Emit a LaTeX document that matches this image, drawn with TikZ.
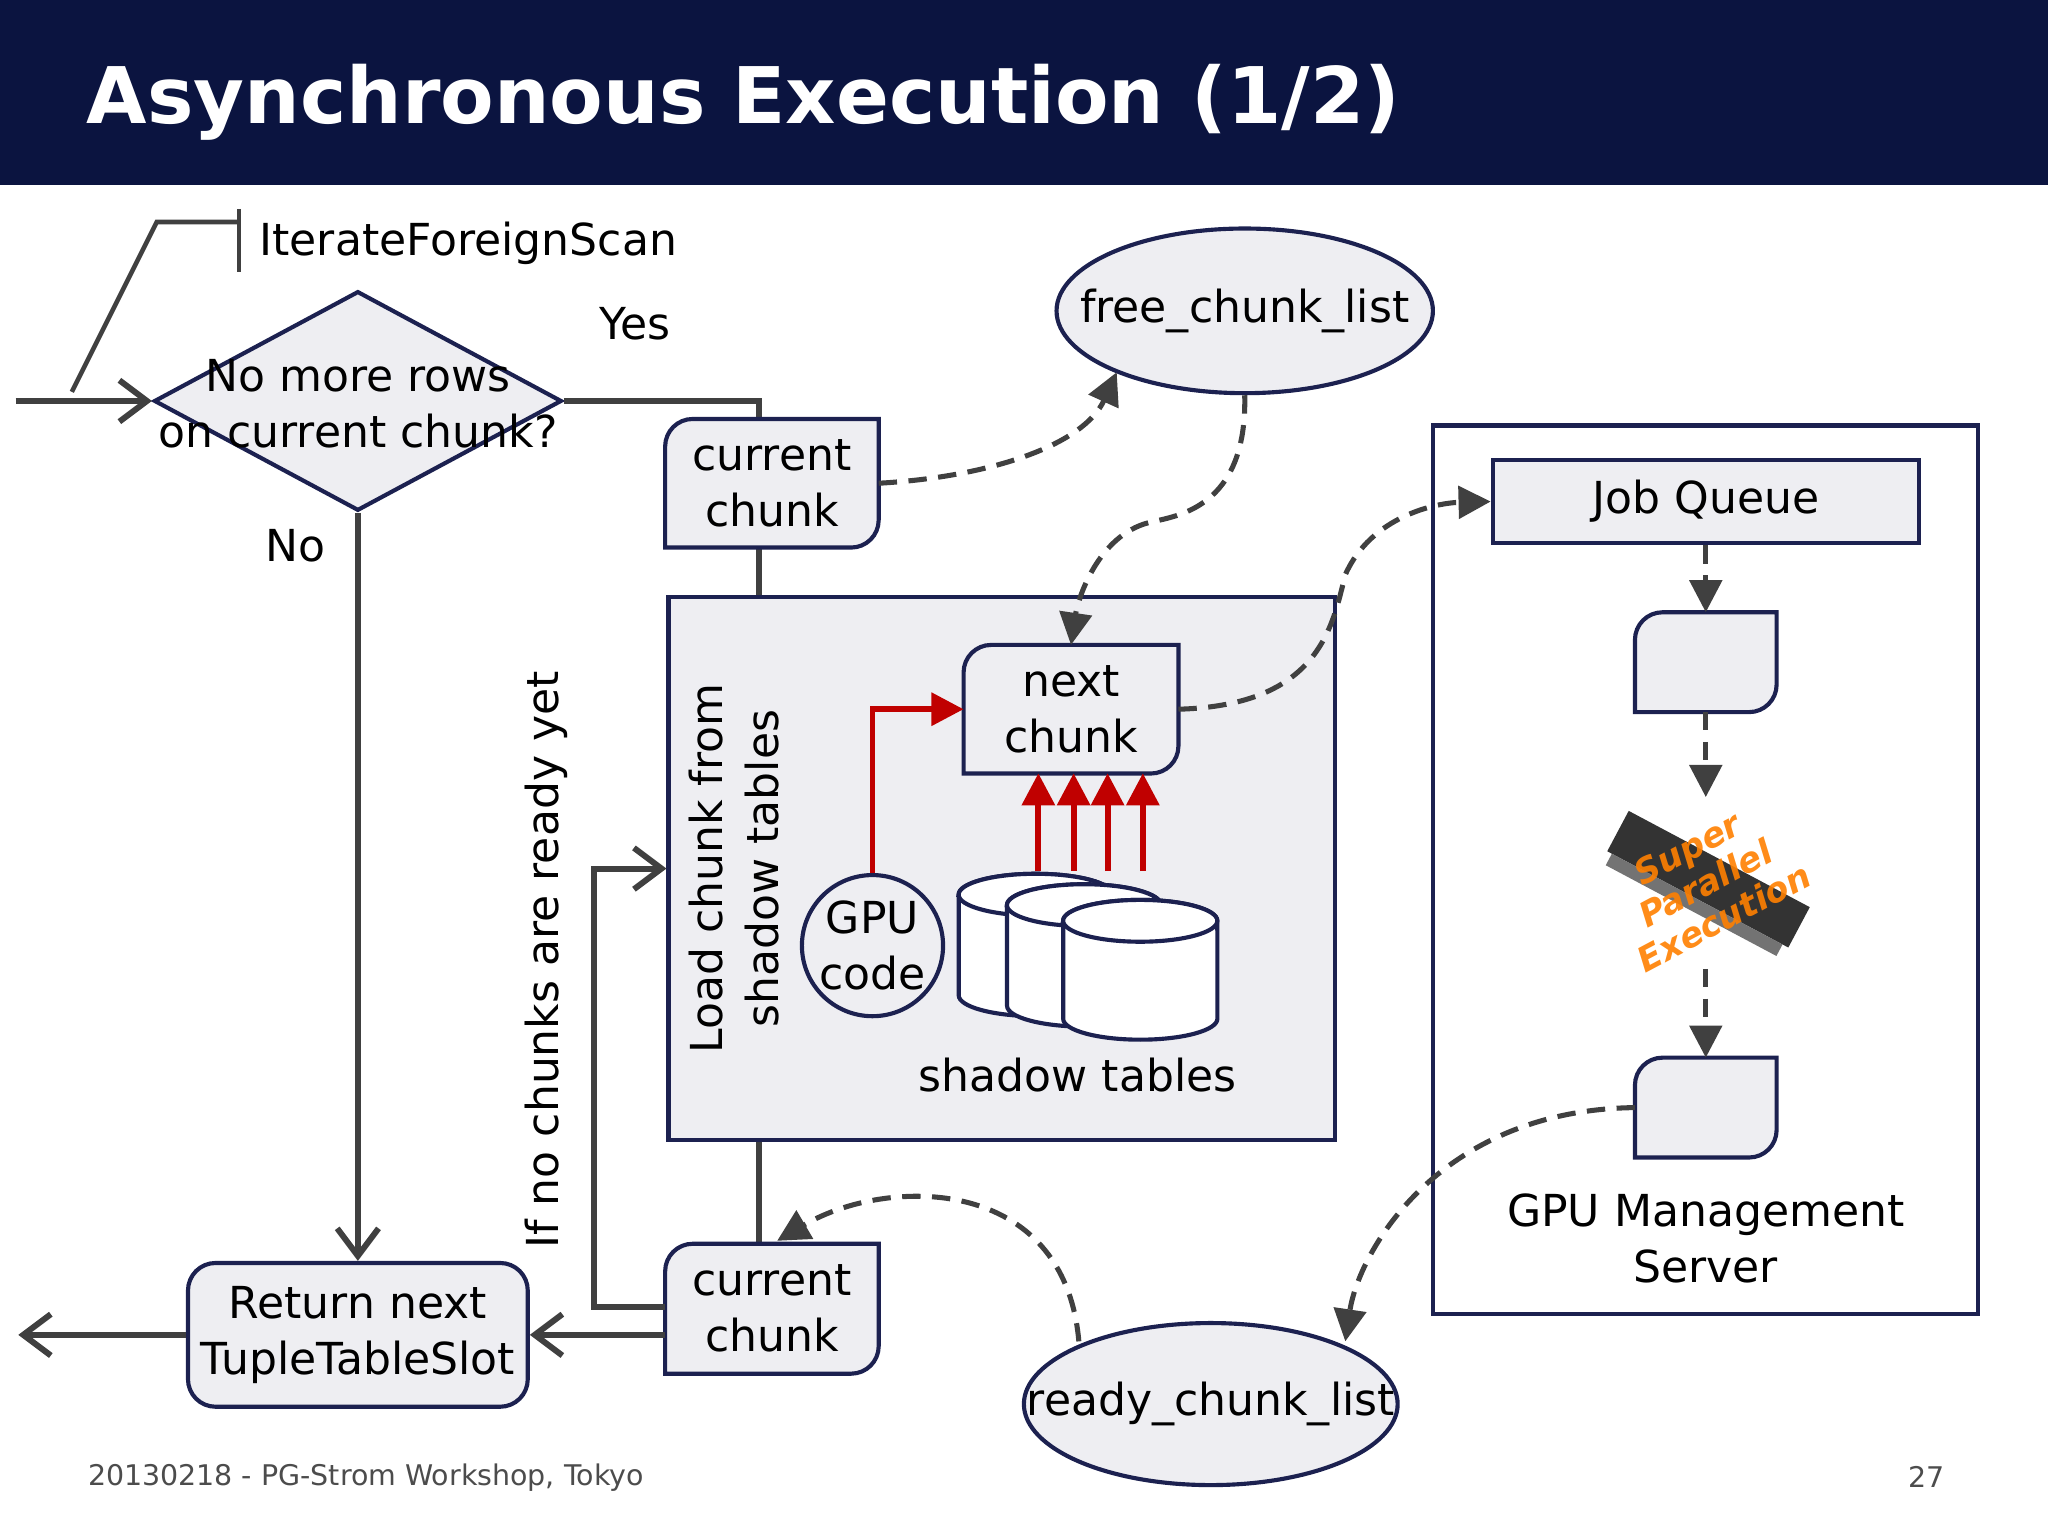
\documentclass[tikz,border=0pt]{standalone}
\usepackage{fontspec}
\setmainfont{DejaVu Sans}
\usetikzlibrary{arrows.meta,shapes.geometric,positioning}
\definecolor{navy}{HTML}{0B1440}
\definecolor{boxline}{HTML}{1C2150}
\definecolor{boxfill}{HTML}{EEEEF2}
\definecolor{flow}{HTML}{404040}
\definecolor{hot}{HTML}{C00000}
\tikzset{
  txt/.style={font=\fontsize{9.6}{12.2}\selectfont,align=center,inner sep=0pt},
  box/.style={draw=boxline,fill=boxfill,line width=0.9pt},
  flowline/.style={draw=flow,line width=1.3pt},
  flowarrow/.style={flowline,-{Straight Barb[length=6pt,width=9pt]}},
  async/.style={draw=flow,line width=1.1pt,dashed,dash pattern=on 4pt off 2.5pt,-{Triangle[length=7pt,width=7pt]}},
  redarrow/.style={draw=hot,line width=1.3pt,-{Triangle[length=7pt,width=7pt]}},
}
% box with rounded top-left and bottom-right corners
\newcommand\chunkshape[1]{%
  \draw[box] (#1.south west) -- ([yshift=-6pt]#1.north west)
    arc[start angle=180,end angle=90,radius=6pt] -- (#1.north east)
    -- ([yshift=6pt]#1.south east) arc[start angle=0,end angle=-90,radius=6pt] -- cycle;}
\newcommand\tablecyl[3]{% x, top, bottom
  \draw[box,fill=white] (#1-59,#2) -- (#1-59,#3) arc[start angle=180,end angle=360,x radius=0.59cm,y radius=0.16cm]
    -- (#1+59,#2) arc[start angle=0,end angle=180,x radius=0.59cm,y radius=0.16cm] -- cycle;
  \draw[box,fill=white] (#1,#2) ellipse[x radius=0.59cm,y radius=0.16cm];}
\begin{document}
\begin{tikzpicture}[x=0.01cm,y=-0.01cm]
\useasboundingbox (0,0) rectangle (1568,1176);
% title
\fill[navy] (0,0) rectangle (1568,142);
\node[anchor=west,text=white,font=\fontsize{17}{20}\bfseries] (title) at (54,78) {Asynchronous Execution (1/2)};

% decision
\node[diamond,box,minimum width=3.12cm,minimum height=1.68cm,inner sep=0pt] (more) at (274,307) {};
\node[txt] (moretxt) at (274,309) {No more rows\\on current chunk?};
\coordinate (entry) at (12,307);
\draw[flowarrow] (entry) -- (more.west);
\draw[flow,line width=1pt] (55,300) -- (120,170) -- (183,170);
\draw[flow,line width=1pt] (183,160) -- (183,208);
\node[txt,anchor=west] (iter) at (198,186) {IterateForeignScan};
\node[txt] (yes) at (486,248) {Yes};
\node[txt] (no) at (226,418) {No};

% main column
\node[minimum width=1.62cm,minimum height=0.97cm] (cur1) at (591,370) {};
\node[box,minimum width=5.1cm,minimum height=4.15cm] (load) at (767,665) {};
\node[minimum width=1.62cm,minimum height=0.98cm] (cur2) at (591,1002) {};
\node[box,rounded corners=6pt,minimum width=2.6cm,minimum height=1.1cm] (ret) at (274,1022) {};
\node[txt] (rettxt) at (ret) {Return next\\TupleTableSlot};
\coordinate (exit) at (14,1022);
\coordinate (c1) at (581,307);
\draw[flowline] (more.east) -- (c1) -- (cur1.north -| c1);
\draw[flowline] (cur1.south -| c1) -- (load.north -| c1);
\draw[flowline] (load.south -| c1) -- (cur2.north -| c1);
\chunkshape{cur1}
\node[txt] at (cur1) {current\\chunk};
\chunkshape{cur2}
\node[txt] at (cur2) {current\\chunk};
\draw[flowarrow] (more.south) -- (ret.north);
\draw[flowarrow] (cur2.west |- ret) -- (ret.east);
\draw[flowarrow] (ret.west) -- (exit);
\coordinate (lp) at (455,1001);
\draw[flowarrow] (cur2.west |- lp) -- (lp) -- (455,665) -- (load.west |- 0,665);
\node[txt,rotate=90] (ifno) at (418,735) {If no chunks are ready yet};

% inside load box
\node[txt,rotate=90] (loadtxt) at (562,665) {Load chunk from\\shadow tables};
\node[minimum width=1.63cm,minimum height=0.97cm] (next) at (820,543) {};
\chunkshape{next}
\node[txt] at (next) {next\\chunk};
\node[circle,box,minimum size=1.08cm,inner sep=0pt] (gpu) at (668,724) {};
\node[txt] at (gpu) {GPU\\code};
\draw[redarrow] (gpu.north) -- (668,543) -- (next.west);
\foreach \x in {795,822,848,875}
  \draw[redarrow] (\x,667) -- (\x,592);
\tablecyl{793}{685}{762}
\tablecyl{830}{693}{770}
\tablecyl{873}{705}{780}
\node[txt] (shadow) at (825,823) {shadow tables};

% lists
\node[ellipse,box,minimum width=2.88cm,minimum height=1.26cm,inner sep=0pt] (free) at (953,238) {};
\node[txt] at (free) {free\_chunk\_list};
\node[ellipse,box,minimum width=2.86cm,minimum height=1.24cm,inner sep=0pt] (ready) at (927,1075) {};
\node[txt] at (ready) {ready\_chunk\_list};

% GPU server
\node[draw=boxline,line width=0.9pt,minimum width=4.17cm,minimum height=6.8cm] (server) at (1306,666) {};
\node[box,minimum width=3.26cm,minimum height=0.64cm,txt] (queue) at (1306,384) {Job Queue};
\node[minimum width=1.07cm,minimum height=0.75cm] (job) at (1306,507) {};
\chunkshape{job}
\node[minimum width=1.07cm,minimum height=0.75cm] (done) at (1306,848) {};
\chunkshape{done}
\node[minimum width=1.6cm,minimum height=1.3cm] (card) at (1306,676) {};
\fill[black!80,rotate around={-28:(card.center)}] (1228,655) rectangle (1385,690);
\fill[black!55,rotate around={-28:(card.center)}] (1232,690) rectangle (1380,700);
\node[rotate=28,text=orange,font=\fontsize{7.5}{8.5}\bfseries\itshape,align=center,opacity=0.9] at (card.center) {Super\\Parallel\\Execution};
\node[txt] (mgmt) at (1306,948) {GPU Management\\Server};
\draw[async] (queue.south) -- (job.north);
\draw[async] (job.south) -- (card.north);
\draw[async] (card.south) -- (done.north);

% asynchronous hand-offs
\draw[async] (cur1.east) .. controls (760,365) and (830,340) .. (855,285);
\draw[async] (free.south) .. controls (955,390) and (900,395) .. (880,400) .. controls (840,410) and (825,460) .. (next.north);
\draw[async] (next.east) .. controls (1010,540) and (1020,480) .. (1030,440) .. controls (1050,395) and (1100,385) .. (queue.west);
\draw[async] (done.west) .. controls (1100,850) and (1040,960) .. (1030,1027);
\draw[async] (826,1027) .. controls (815,900) and (680,900) .. (595,950);

% footer
\node[anchor=west,text=black!70,font=\fontsize{6.2}{8}\selectfont] (foot) at (55,1131) {20130218 - PG-Strom Workshop, Tokyo};
\node[text=black!70,font=\fontsize{6.2}{8}\selectfont] (page) at (1475,1131) {27};
\end{tikzpicture}
\end{document}
